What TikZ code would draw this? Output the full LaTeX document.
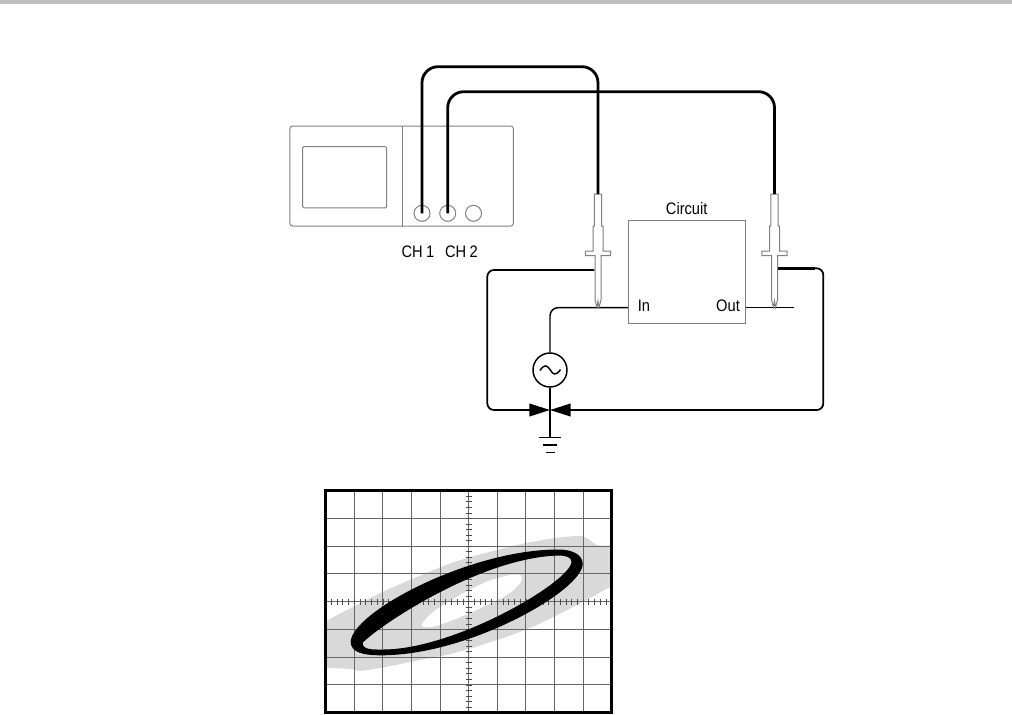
\documentclass[tikz,border=0pt]{standalone}
\usepackage{fontspec}
\setmainfont[FakeStretch=0.88, WordSpace=0.85]{Liberation Sans}
\usetikzlibrary{arrows.meta, positioning}

\tikzset{
    outline/.style={draw=gray, line width=0.75pt},
    knob/.style={circle, outline, minimum size=12pt, inner sep=0pt},
    cable/.style={line width=2.1pt, rounded corners=12pt},
    wire/.style={line width=1.1pt, rounded corners=6pt},
    loopwire/.style={line width=1.3pt, rounded corners=5pt},
    heavywire/.style={line width=2pt},
    label/.style={inner sep=0pt, font=\fontsize{12.5pt}{12.5pt}\selectfont},
    gridline/.style={draw=black!60, line width=0.75pt},
    tick/.style={draw=black!70, line width=0.6pt},
    tip/.style={-{Triangle[length=15.5pt, width=9.5pt]}},
    probe/.pic={
        \draw[outline, fill=white] (-3.7,0) -- (-3.7,32) -- (-5,32) -- (-5,57) -- (-12.7,57)
            -- (-12.7,61.7) -- (-3,61.7) -- (-3,106) -- (-1,113.3) -- (0,107) -- (1,113.3)
            -- (3,106) -- (3,61.7) -- (12.7,61.7) -- (12.7,57) -- (5,57) -- (5,32) -- (3.7,32)
            -- (3.7,0) -- cycle;
    }
}

\begin{document}
\begin{tikzpicture}[x=0.75pt, y=-0.75pt]
    \useasboundingbox (0,0) rectangle (1012,714);
    % Page rule
    \fill[gray!50] (0,0) rectangle (1012,4);

    % Oscilloscope
    \node[outline, rounded corners=2pt, minimum width=167.6pt, minimum height=75pt, inner sep=0pt] (scope) at (401.7,176) {};
    \draw[outline] (scope.north -| 402,0) -- (scope.south -| 402,0);
    \node[outline, rounded corners=1pt, minimum width=63pt, minimum height=46pt, inner sep=0pt] (screen) at (344.7,177.3) {};
    \node[knob] (chone) at (422,213.3) {};
    \node[knob] (chtwo) at (447.7,213.3) {};
    \node[knob] (chext) at (473.5,213.3) {};
    \node[label] (chonelabel) at (418,251.7) {CH 1};
    \node[label] (chtwolabel) at (461.5,251.7) {CH 2};

    % Circuit
    \node[outline, minimum width=88pt, minimum height=77.2pt, inner sep=0pt] (circuit) at (687,271.8) {};
    \node[label] (circuitlabel) at (686.7,209) {Circuit};
    \node[label] (inlabel) at (644,305.7) {In};
    \node[label] (outlabel) at (728,305.7) {Out};
    \coordinate (inpin) at (circuit.west |- 0,307.7);
    \coordinate (outpin) at (circuit.east |- 0,307.7);
    \coordinate (outend) at (794.3,307.7);
    \coordinate (gndjoin) at (550,410);
    \node[circle, draw, line width=1.1pt, minimum size=25.5pt, inner sep=0pt] (source) at (550,370) {};
    \node[inner sep=0pt] (gnd) at (550,437.3) {};

    % Probes
    \coordinate (probeone) at (598,194);
    \coordinate (probetwo) at (774.5,194);
    \coordinate (clipone) at (594.3,270);
    \coordinate (cliptwo) at (778.2,268.3);

    % Circuit wiring
    \draw[wire] (inpin) -| (source.north);
    \draw[line width=1.1pt] (outpin) -- (outend);
    \draw[line width=1.1pt] (source.south) -- (gnd.center);
    \draw[line width=1.1pt] (539.3,437.3) -- (561.3,437.3);
    \draw[line width=1.1pt] (543.3,445) -- (557.3,445);
    \draw[line width=1.1pt] (545.7,452.7) -- (555,452.7);
    \draw[line width=1.1pt] (540,370.5) .. controls (544,364) and (547,365) .. (550,369.5) .. controls (553,375) and (556,376) .. (560.5,369.5);

    % Ground loops
    \draw[loopwire, tip] (clipone) -| (487.3,410) -- (gndjoin);
    \draw[loopwire, tip] (cliptwo) -| (823.3,410) -- (gndjoin);
    \draw[heavywire] (clipone) -- (495,270);
    \draw[heavywire] (cliptwo) -- (815,268.3);

    \pic at (probeone) {probe};
    \pic at (probetwo) {probe};

    % Cables
    \draw[cable] (chone.center) |- (598,66.7) -- (probeone);
    \draw[cable] (chtwo.center) |- (774.5,91.7) -- (probetwo);

    % Gray trace
    \begin{scope}
        \clip (325.7,490.7) rectangle (611.7,712.7);
        \fill[gray!30] plot[smooth] coordinates {(320,624.3) (353.3,606.7) (386.7,590) (420,575.7) (453.3,562.3)
            (486.7,552.7) (520,544.3) (553.3,538.3) (580,536) (590,540) (596.7,545) (613.3,545.7)}
            -- plot[smooth] coordinates {(613.3,585) (580,603.3) (536.7,625) (500,639) (453.3,653.3)
            (420,660) (386.7,666.7) (360,671) (351.7,669) (320,667.7)} -- cycle;
        \fill[white] plot[smooth cycle] coordinates {(421.7,624.3) (433.3,611.7) (460,595) (486.7,581.7)
            (510,575) (521,575.7) (520,583.3) (506.7,595) (480,608.3) (453.3,620) (433.3,626.7) (424,627)};
    \end{scope}

    % Graticule
    \begin{scope}[shift={(325.7,490.7)}]
        \foreach \i in {1,...,9} {
            \draw[gridline] (28.6*\i,0) -- (28.6*\i,222);
        }
        \foreach \i in {1,...,7} {
            \draw[gridline] (0,27.75*\i) -- (286,27.75*\i);
        }
        \foreach \i in {1,...,49} {
            \draw[tick] (5.72*\i,108) -- (5.72*\i,114);
        }
        \foreach \i in {1,...,39} {
            \draw[tick] (140,5.55*\i) -- (146,5.55*\i);
        }
    \end{scope}

    % Lissajous trace
    \fill[black, even odd rule]
        (350.7,641.7) .. controls (352,612) and (470,549.5) .. (558,549.5)
            .. controls (573,549.5) and (582.7,555) .. (582.7,564)
            .. controls (582.7,590) and (470,655.3) .. (381,655.3)
            .. controls (362,655.3) and (350.7,652) .. (350.7,641.7) -- cycle
        (362.7,642.7) .. controls (380,625) and (480,558) .. (558,555.5)
            .. controls (566,555.5) and (571.5,557) .. (571.5,562)
            .. controls (570,582) and (455,649.5) .. (383,649.5)
            .. controls (372,649.5) and (362.7,650) .. (362.7,642.7) -- cycle;

    % Graticule border
    \draw[line width=1.9pt] (325.7,490.7) rectangle (611.7,712.7);
\end{tikzpicture}
\end{document}
